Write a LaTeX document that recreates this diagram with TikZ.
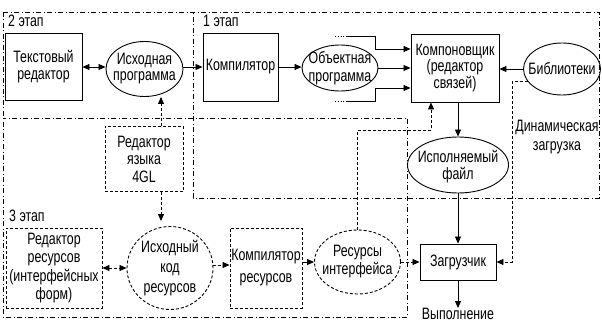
\documentclass[tikz,border=0pt]{standalone}
\usepackage{fontspec}
\setmainfont[FakeStretch=0.75]{Liberation Sans}
\newfontfamily\dfam[FakeStretch=0.75]{Liberation Sans}
\usetikzlibrary{shapes.geometric,arrows.meta}
\begin{document}
\begin{tikzpicture}[x=1pt,y=-1pt,
  txt/.style={font=\dfam\fontsize{16.5}{17}\selectfont, align=center, inner sep=0pt},
  ls/.style={font=\dfam\fontsize{16.5}{#1}\selectfont},
  box/.style={draw, line width=0.9pt, rectangle, inner sep=0pt, txt},
  dbox/.style={box, dash pattern=on 3pt off 2pt},
  oval/.style={draw, ellipse, line width=0.9pt, inner sep=0pt},
  doval/.style={oval, dash pattern=on 3pt off 2pt},
  arr/.style={line width=0.8pt, -{Triangle[length=7pt,width=6pt]}},
  darr/.style={line width=0.8pt, {Triangle[length=7pt,width=6pt]}-{Triangle[length=7pt,width=6pt]}},
  dsh/.style={dash pattern=on 3pt off 2pt},
  frame/.style={line width=0.8pt, dash pattern=on 5pt off 2.5pt on 1pt off 2.5pt}
]
\useasboundingbox (0,0) rectangle (602,326);
\fill[white] (0,0) rectangle (602,326);

% frames
\draw[frame] (3,12) -- (599,12) -- (599,198) -- (193,198) -- (193,12);
\draw[frame] (3,12) -- (3,317) -- (407,317) -- (407,118) -- (3,118);

% stage labels
\node[txt, anchor=west] (s2) at (8,21) {2 этап};
\node[txt, anchor=west] (s1) at (203,21) {1 этап};
\node[txt, anchor=west] (s3) at (9,216) {3 этап};

% stage 2 / 1 nodes
\node[box, minimum width=77pt, minimum height=67pt] (ted) at (43.5,67) {Текстовый\\редактор};
\node[oval, minimum width=77pt, minimum height=55pt, label={[txt,ls=16]center:Исходная\\программа}] (isx) at (144.5,69) {};
\node[box, minimum width=75pt, minimum height=68pt] (comp) at (240.5,67) {Компилятор};
\node[oval, minimum width=76pt, minimum height=46pt, label={[txt,ls=18]center:Объектная\\программа}] (obj) at (340,68) {};
\node[box, ls=15.5, minimum width=88pt, minimum height=68pt] (link) at (455,68) {Компоновщик\\(редактор\\связей)};
\node[oval, minimum width=77pt, minimum height=52pt, label={[txt]center:Библиотеки}] (lib) at (562,69) {};
\node[oval, minimum width=101pt, minimum height=56pt, label={[txt,yshift=-2pt]center:Исполняемый\\файл}] (exe) at (458,165) {};
\node[box, minimum width=76pt, minimum height=36pt] (load) at (458,262) {Загрузчик};
\node[txt] (run) at (458,314) {Выполнение};
\node[txt, ls=19] (dyn) at (557,137) {Динамическая\\загрузка};

% stage 3 nodes
\node[dbox, ls=17.5, minimum width=78pt, minimum height=65pt] (gl) at (144,159) {Редактор\\языка\\4GL};
\node[dbox, ls=18.5, minimum width=96pt, minimum height=80pt] (red) at (54,268) {Редактор\\ресурсов\\(интерфейсных\\форм)};
\node[doval, minimum width=86pt, minimum height=83pt, label={[txt,ls=20]center:Исходный\\код\\ресурсов}] (src) at (170,268) {};
\node[dbox, ls=22, minimum width=72pt, minimum height=80pt] (rcomp) at (266,268) {Компилятор\\ресурсов};
\node[doval, minimum width=86pt, minimum height=64pt, label={[txt,ls=18]center:Ресурсы\\интерфейса}] (res) at (357.5,262) {};

% helper coordinates
\coordinate (gx) at (161,0);
\coordinate (dynx) at (512,0);
\coordinate (bend) at (431,130);
\coordinate (t0) at (335,36);
\coordinate (t1) at (346,36);
\coordinate (t2) at (375,36);
\coordinate (t3) at (375,49);
\coordinate (b0) at (335,101);
\coordinate (b1) at (346,101);
\coordinate (b2) at (375,101);
\coordinate (b3) at (375,88);

% connectors
\draw[darr] (ted.east |- 0,67) -- (isx.west |- 0,67);
\draw[arr] (isx.east |- comp.west) -- (comp.west);
\draw[arr] (comp.east) -- (obj.west |- comp.east);
\draw[arr] (obj.east) -- (obj.east -| link.west);
\draw[line width=0.8pt, dotted] (t0) -- (t1);
\draw[arr] (t1) -- (t2) -- (t3) -- (t3 -| link.west);
\draw[line width=0.8pt, dotted] (b0) -- (b1);
\draw[arr] (b1) -- (b2) -- (b3) -- (b3 -| link.west);
\draw[arr] (lib.west) -- (lib.west -| link.east);
\draw[arr] (exe.north |- link.south) -- (exe.north);
\draw[arr] (exe.south) -- (load.north);
\draw[arr] (load.south) -- (run.north);
\draw[arr, dsh] (lib.200) -- (lib.200 -| dynx) |- (load.east);

\draw[arr, dsh] (gl.north -| gx) -- (gx |- isx.south);
\draw[arr, dsh, shorten >=5pt] (gl.south -| gx) -- (gx |- src.north);
\draw[darr, dsh] (red.east) -- (red.east -| src.west);
\draw[arr, dsh] (src.east |- 0,265) -- (rcomp.west |- 0,265);
\draw[arr] (rcomp.east |- res.west) -- (res.west);
\draw[arr, dsh] (res.east) -- (load.west);
\draw[arr, dsh] (res.north) |- (bend) -- (bend |- link.south);
\end{tikzpicture}
\end{document}
